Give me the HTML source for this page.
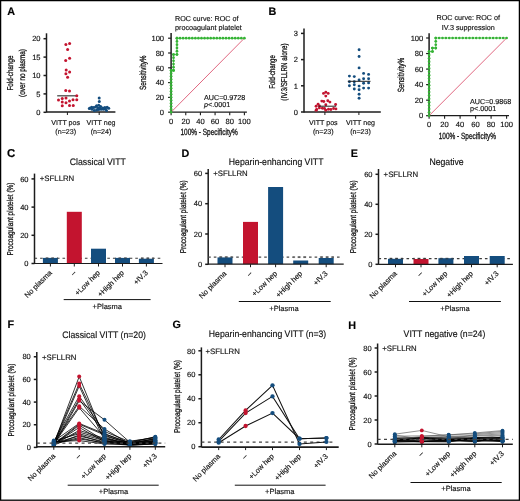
<!DOCTYPE html><html><head><meta charset="utf-8"><style>html,body{margin:0;padding:0;background:#fff;}svg{display:block;will-change:transform;}</style></head><body><svg width="520" height="501" viewBox="0 0 520 501" style="font-family:&quot;Liberation Sans&quot;,sans-serif">
<style>text{stroke:#111;stroke-width:0.15px;text-rendering:geometricPrecision;}</style>
<rect x="0" y="0" width="520" height="501" fill="#fff"/>
<rect x="0.6" y="0.6" width="518.8" height="499.6" fill="none" stroke="#000" stroke-width="1.3"/>
<text x="7.2" y="15.2" font-size="10.8" font-weight="bold" fill="#000">A</text>
<line x1="46.50" y1="33.30" x2="46.50" y2="112.50" stroke="#1c1c1c" stroke-width="1.5" />
<line x1="43.50" y1="112.30" x2="46.50" y2="112.30" stroke="#1c1c1c" stroke-width="1.5" />
<text x="40.50" y="115.00" font-size="7.5" text-anchor="end" fill="#111" >0</text>
<line x1="43.50" y1="93.90" x2="46.50" y2="93.90" stroke="#1c1c1c" stroke-width="1.5" />
<text x="40.50" y="96.60" font-size="7.5" text-anchor="end" fill="#111" >5</text>
<line x1="43.50" y1="75.50" x2="46.50" y2="75.50" stroke="#1c1c1c" stroke-width="1.5" />
<text x="40.50" y="78.20" font-size="7.5" text-anchor="end" fill="#111" >10</text>
<line x1="43.50" y1="57.10" x2="46.50" y2="57.10" stroke="#1c1c1c" stroke-width="1.5" />
<text x="40.50" y="59.80" font-size="7.5" text-anchor="end" fill="#111" >15</text>
<line x1="43.50" y1="38.70" x2="46.50" y2="38.70" stroke="#1c1c1c" stroke-width="1.5" />
<text x="40.50" y="41.40" font-size="7.5" text-anchor="end" fill="#111" >20</text>
<line x1="46.50" y1="112.00" x2="115.40" y2="112.00" stroke="#1c1c1c" stroke-width="1.5" />
<line x1="67.40" y1="112.00" x2="67.40" y2="115.00" stroke="#1c1c1c" stroke-width="1" />
<line x1="99.20" y1="112.00" x2="99.20" y2="115.00" stroke="#1c1c1c" stroke-width="1" />
<text x="65.70" y="125.30" font-size="7.1" text-anchor="middle" fill="#111" >VITT pos</text>
<text x="65.70" y="134.20" font-size="7.1" text-anchor="middle" fill="#111" >(n=23)</text>
<text x="101.00" y="125.30" font-size="7.1" text-anchor="middle" fill="#111" >VITT neg</text>
<text x="101.00" y="134.20" font-size="7.1" text-anchor="middle" fill="#111" >(n=24)</text>
<g transform="translate(13.20,73.00) rotate(-90) scale(0.74,1)"><text x="0" y="0" font-size="8.5" text-anchor="middle" fill="#111" style="stroke-width:0.3px">Fold-change</text></g>
<g transform="translate(24.60,73.00) rotate(-90) scale(0.75,1)"><text x="0" y="0" font-size="8.5" text-anchor="middle" fill="#111" style="stroke-width:0.3px">(over no plasma)</text></g>
<line x1="57.20" y1="95.80" x2="76.00" y2="95.80" stroke="#4a4a4a" stroke-width="1.3" />
<circle cx="65.90" cy="44.60" r="1.5" fill="#c3142f"/>
<circle cx="69.60" cy="43.60" r="1.5" fill="#c3142f"/>
<circle cx="67.60" cy="49.50" r="1.5" fill="#c3142f"/>
<circle cx="65.70" cy="60.50" r="1.5" fill="#c3142f"/>
<circle cx="69.60" cy="58.30" r="1.5" fill="#c3142f"/>
<circle cx="66.20" cy="70.00" r="1.5" fill="#c3142f"/>
<circle cx="69.60" cy="72.10" r="1.5" fill="#c3142f"/>
<circle cx="65.90" cy="73.80" r="1.5" fill="#c3142f"/>
<circle cx="67.60" cy="77.20" r="1.5" fill="#c3142f"/>
<circle cx="65.75" cy="90.50" r="1.5" fill="#c3142f"/>
<circle cx="69.50" cy="91.00" r="1.5" fill="#c3142f"/>
<circle cx="76.75" cy="95.75" r="1.5" fill="#c3142f"/>
<circle cx="58.50" cy="100.00" r="1.5" fill="#c3142f"/>
<circle cx="62.25" cy="98.50" r="1.5" fill="#c3142f"/>
<circle cx="66.00" cy="98.00" r="1.5" fill="#c3142f"/>
<circle cx="69.50" cy="101.00" r="1.5" fill="#c3142f"/>
<circle cx="73.00" cy="99.75" r="1.5" fill="#c3142f"/>
<circle cx="76.75" cy="99.75" r="1.5" fill="#c3142f"/>
<circle cx="62.25" cy="102.00" r="1.5" fill="#c3142f"/>
<circle cx="66.00" cy="102.75" r="1.5" fill="#c3142f"/>
<circle cx="62.25" cy="105.75" r="1.5" fill="#c3142f"/>
<circle cx="69.50" cy="105.50" r="1.5" fill="#c3142f"/>
<circle cx="73.25" cy="105.50" r="1.5" fill="#c3142f"/>
<circle cx="99.20" cy="97.90" r="1.5" fill="#144d7e"/>
<circle cx="99.30" cy="101.60" r="1.5" fill="#144d7e"/>
<circle cx="96.60" cy="105.70" r="1.5" fill="#144d7e"/>
<circle cx="98.70" cy="105.20" r="1.5" fill="#144d7e"/>
<circle cx="100.60" cy="106.50" r="1.5" fill="#144d7e"/>
<circle cx="90.10" cy="108.10" r="1.5" fill="#144d7e"/>
<circle cx="91.70" cy="107.30" r="1.5" fill="#144d7e"/>
<circle cx="93.60" cy="107.50" r="1.5" fill="#144d7e"/>
<circle cx="95.50" cy="107.00" r="1.5" fill="#144d7e"/>
<circle cx="102.80" cy="108.10" r="1.5" fill="#144d7e"/>
<circle cx="104.90" cy="107.50" r="1.5" fill="#144d7e"/>
<circle cx="107.10" cy="107.30" r="1.5" fill="#144d7e"/>
<circle cx="108.70" cy="108.30" r="1.5" fill="#144d7e"/>
<circle cx="94.40" cy="110.40" r="1.5" fill="#144d7e"/>
<circle cx="96.60" cy="110.00" r="1.5" fill="#144d7e"/>
<circle cx="98.70" cy="109.40" r="1.5" fill="#144d7e"/>
<circle cx="101.20" cy="109.20" r="1.5" fill="#144d7e"/>
<circle cx="106.50" cy="110.40" r="1.5" fill="#144d7e"/>
<circle cx="97.90" cy="108.10" r="1.5" fill="#144d7e"/>
<circle cx="100.10" cy="108.10" r="1.5" fill="#144d7e"/>
<circle cx="89.30" cy="108.60" r="1.5" fill="#144d7e"/>
<circle cx="103.50" cy="109.30" r="1.5" fill="#144d7e"/>
<circle cx="92.00" cy="109.20" r="1.5" fill="#144d7e"/>
<circle cx="105.50" cy="109.00" r="1.5" fill="#144d7e"/>
<line x1="171.10" y1="112.20" x2="244.40" y2="38.20" stroke="#d8405f" stroke-width="0.8" />
<line x1="171.10" y1="33.00" x2="171.10" y2="112.70" stroke="#1c1c1c" stroke-width="1.5" />
<line x1="168.10" y1="112.20" x2="171.10" y2="112.20" stroke="#1c1c1c" stroke-width="1.2" />
<text x="164.10" y="114.90" font-size="7.6" text-anchor="end" fill="#111" >0</text>
<line x1="168.10" y1="97.40" x2="171.10" y2="97.40" stroke="#1c1c1c" stroke-width="1.2" />
<text x="164.10" y="100.10" font-size="7.6" text-anchor="end" fill="#111" >20</text>
<line x1="168.10" y1="82.60" x2="171.10" y2="82.60" stroke="#1c1c1c" stroke-width="1.2" />
<text x="164.10" y="85.30" font-size="7.6" text-anchor="end" fill="#111" >40</text>
<line x1="168.10" y1="67.80" x2="171.10" y2="67.80" stroke="#1c1c1c" stroke-width="1.2" />
<text x="164.10" y="70.50" font-size="7.6" text-anchor="end" fill="#111" >60</text>
<line x1="168.10" y1="53.00" x2="171.10" y2="53.00" stroke="#1c1c1c" stroke-width="1.2" />
<text x="164.10" y="55.70" font-size="7.6" text-anchor="end" fill="#111" >80</text>
<line x1="168.10" y1="38.20" x2="171.10" y2="38.20" stroke="#1c1c1c" stroke-width="1.2" />
<text x="164.10" y="40.90" font-size="7.6" text-anchor="end" fill="#111" >100</text>
<line x1="171.10" y1="112.20" x2="246.90" y2="112.20" stroke="#1c1c1c" stroke-width="1.2" />
<line x1="171.10" y1="112.20" x2="171.10" y2="115.20" stroke="#1c1c1c" stroke-width="1.1" />
<text x="171.10" y="124.30" font-size="7.6" text-anchor="middle" fill="#111" >0</text>
<line x1="185.76" y1="112.20" x2="185.76" y2="115.20" stroke="#1c1c1c" stroke-width="1.1" />
<text x="185.76" y="124.30" font-size="7.6" text-anchor="middle" fill="#111" >20</text>
<line x1="200.42" y1="112.20" x2="200.42" y2="115.20" stroke="#1c1c1c" stroke-width="1.1" />
<text x="200.42" y="124.30" font-size="7.6" text-anchor="middle" fill="#111" >40</text>
<line x1="215.08" y1="112.20" x2="215.08" y2="115.20" stroke="#1c1c1c" stroke-width="1.1" />
<text x="215.08" y="124.30" font-size="7.6" text-anchor="middle" fill="#111" >60</text>
<line x1="229.74" y1="112.20" x2="229.74" y2="115.20" stroke="#1c1c1c" stroke-width="1.1" />
<text x="229.74" y="124.30" font-size="7.6" text-anchor="middle" fill="#111" >80</text>
<line x1="244.40" y1="112.20" x2="244.40" y2="115.20" stroke="#1c1c1c" stroke-width="1.1" />
<text x="244.40" y="124.30" font-size="7.6" text-anchor="middle" fill="#111" >100</text>
<path d="M171.10,112.20 L171.10,70.39 L173.52,70.39 L173.52,54.48 L176.96,54.48 L176.96,38.20 L244.40,38.20" fill="none" stroke="#35b335" stroke-width="0.6"/>
<circle cx="171.10" cy="112.20" r="1.35" fill="#35b335"/>
<circle cx="171.10" cy="109.21" r="1.35" fill="#35b335"/>
<circle cx="171.10" cy="106.23" r="1.35" fill="#35b335"/>
<circle cx="171.10" cy="103.24" r="1.35" fill="#35b335"/>
<circle cx="171.10" cy="100.25" r="1.35" fill="#35b335"/>
<circle cx="171.10" cy="97.27" r="1.35" fill="#35b335"/>
<circle cx="171.10" cy="94.28" r="1.35" fill="#35b335"/>
<circle cx="171.10" cy="91.30" r="1.35" fill="#35b335"/>
<circle cx="171.10" cy="88.31" r="1.35" fill="#35b335"/>
<circle cx="171.10" cy="85.32" r="1.35" fill="#35b335"/>
<circle cx="171.10" cy="82.34" r="1.35" fill="#35b335"/>
<circle cx="171.10" cy="79.35" r="1.35" fill="#35b335"/>
<circle cx="171.10" cy="76.36" r="1.35" fill="#35b335"/>
<circle cx="171.10" cy="73.38" r="1.35" fill="#35b335"/>
<circle cx="171.10" cy="70.39" r="1.35" fill="#35b335"/>
<circle cx="171.10" cy="70.39" r="1.35" fill="#35b335"/>
<circle cx="173.52" cy="70.39" r="1.35" fill="#35b335"/>
<circle cx="173.52" cy="70.39" r="1.35" fill="#35b335"/>
<circle cx="173.52" cy="67.21" r="1.35" fill="#35b335"/>
<circle cx="173.52" cy="64.03" r="1.35" fill="#35b335"/>
<circle cx="173.52" cy="60.84" r="1.35" fill="#35b335"/>
<circle cx="173.52" cy="57.66" r="1.35" fill="#35b335"/>
<circle cx="173.52" cy="54.48" r="1.35" fill="#35b335"/>
<circle cx="173.52" cy="54.48" r="1.35" fill="#35b335"/>
<circle cx="176.96" cy="54.48" r="1.35" fill="#35b335"/>
<circle cx="176.96" cy="54.48" r="1.35" fill="#35b335"/>
<circle cx="176.96" cy="51.22" r="1.35" fill="#35b335"/>
<circle cx="176.96" cy="47.97" r="1.35" fill="#35b335"/>
<circle cx="176.96" cy="44.71" r="1.35" fill="#35b335"/>
<circle cx="176.96" cy="41.46" r="1.35" fill="#35b335"/>
<circle cx="176.96" cy="38.20" r="1.35" fill="#35b335"/>
<circle cx="176.96" cy="38.20" r="1.35" fill="#35b335"/>
<circle cx="180.03" cy="38.20" r="1.35" fill="#35b335"/>
<circle cx="183.09" cy="38.20" r="1.35" fill="#35b335"/>
<circle cx="186.16" cy="38.20" r="1.35" fill="#35b335"/>
<circle cx="189.23" cy="38.20" r="1.35" fill="#35b335"/>
<circle cx="192.29" cy="38.20" r="1.35" fill="#35b335"/>
<circle cx="195.36" cy="38.20" r="1.35" fill="#35b335"/>
<circle cx="198.42" cy="38.20" r="1.35" fill="#35b335"/>
<circle cx="201.49" cy="38.20" r="1.35" fill="#35b335"/>
<circle cx="204.55" cy="38.20" r="1.35" fill="#35b335"/>
<circle cx="207.62" cy="38.20" r="1.35" fill="#35b335"/>
<circle cx="210.68" cy="38.20" r="1.35" fill="#35b335"/>
<circle cx="213.75" cy="38.20" r="1.35" fill="#35b335"/>
<circle cx="216.81" cy="38.20" r="1.35" fill="#35b335"/>
<circle cx="219.88" cy="38.20" r="1.35" fill="#35b335"/>
<circle cx="222.94" cy="38.20" r="1.35" fill="#35b335"/>
<circle cx="226.01" cy="38.20" r="1.35" fill="#35b335"/>
<circle cx="229.07" cy="38.20" r="1.35" fill="#35b335"/>
<circle cx="232.14" cy="38.20" r="1.35" fill="#35b335"/>
<circle cx="235.20" cy="38.20" r="1.35" fill="#35b335"/>
<circle cx="238.27" cy="38.20" r="1.35" fill="#35b335"/>
<circle cx="241.33" cy="38.20" r="1.35" fill="#35b335"/>
<circle cx="244.40" cy="38.20" r="1.35" fill="#35b335"/>
<text x="175.00" y="21.20" font-size="7.2" text-anchor="start" fill="#111" >ROC curve: ROC of</text>
<text x="175.00" y="30.20" font-size="7.2" text-anchor="start" fill="#111" >procoagulant platelet</text>
<g transform="translate(209.10,135.00) rotate(0) scale(0.72,1)"><text x="0" y="0" font-size="9" text-anchor="middle" fill="#111" style="stroke-width:0.3px">100% - Specificity%</text></g>
<g transform="translate(146.00,72.70) rotate(-90) scale(0.71,1)"><text x="0" y="0" font-size="9" text-anchor="middle" fill="#111" style="stroke-width:0.3px">Sensitivity%</text></g>
<text x="204.00" y="99.60" font-size="7.2" text-anchor="start" fill="#111" >AUC=0.9728</text>
<text x="204" y="106.9" font-size="7.2" fill="#111"><tspan font-style="italic">p</tspan>&lt;.0001</text>
<line x1="429.10" y1="115.70" x2="506.60" y2="38.00" stroke="#d8405f" stroke-width="0.8" />
<line x1="429.10" y1="33.20" x2="429.10" y2="116.20" stroke="#1c1c1c" stroke-width="1.5" />
<line x1="426.10" y1="115.70" x2="429.10" y2="115.70" stroke="#1c1c1c" stroke-width="1.2" />
<text x="423.30" y="118.40" font-size="7.6" text-anchor="end" fill="#111" >0</text>
<line x1="426.10" y1="100.16" x2="429.10" y2="100.16" stroke="#1c1c1c" stroke-width="1.2" />
<text x="423.30" y="102.86" font-size="7.6" text-anchor="end" fill="#111" >20</text>
<line x1="426.10" y1="84.62" x2="429.10" y2="84.62" stroke="#1c1c1c" stroke-width="1.2" />
<text x="423.30" y="87.32" font-size="7.6" text-anchor="end" fill="#111" >40</text>
<line x1="426.10" y1="69.08" x2="429.10" y2="69.08" stroke="#1c1c1c" stroke-width="1.2" />
<text x="423.30" y="71.78" font-size="7.6" text-anchor="end" fill="#111" >60</text>
<line x1="426.10" y1="53.54" x2="429.10" y2="53.54" stroke="#1c1c1c" stroke-width="1.2" />
<text x="423.30" y="56.24" font-size="7.6" text-anchor="end" fill="#111" >80</text>
<line x1="426.10" y1="38.00" x2="429.10" y2="38.00" stroke="#1c1c1c" stroke-width="1.2" />
<text x="423.30" y="40.70" font-size="7.6" text-anchor="end" fill="#111" >100</text>
<line x1="429.10" y1="115.70" x2="509.00" y2="115.70" stroke="#1c1c1c" stroke-width="1.2" />
<line x1="429.10" y1="115.70" x2="429.10" y2="118.70" stroke="#1c1c1c" stroke-width="1.1" />
<text x="429.10" y="127.30" font-size="7.6" text-anchor="middle" fill="#111" >0</text>
<line x1="444.60" y1="115.70" x2="444.60" y2="118.70" stroke="#1c1c1c" stroke-width="1.1" />
<text x="444.60" y="127.30" font-size="7.6" text-anchor="middle" fill="#111" >20</text>
<line x1="460.10" y1="115.70" x2="460.10" y2="118.70" stroke="#1c1c1c" stroke-width="1.1" />
<text x="460.10" y="127.30" font-size="7.6" text-anchor="middle" fill="#111" >40</text>
<line x1="475.60" y1="115.70" x2="475.60" y2="118.70" stroke="#1c1c1c" stroke-width="1.1" />
<text x="475.60" y="127.30" font-size="7.6" text-anchor="middle" fill="#111" >60</text>
<line x1="491.10" y1="115.70" x2="491.10" y2="118.70" stroke="#1c1c1c" stroke-width="1.1" />
<text x="491.10" y="127.30" font-size="7.6" text-anchor="middle" fill="#111" >80</text>
<line x1="506.60" y1="115.70" x2="506.60" y2="118.70" stroke="#1c1c1c" stroke-width="1.1" />
<text x="506.60" y="127.30" font-size="7.6" text-anchor="middle" fill="#111" >100</text>
<path d="M429.10,115.70 L429.10,51.52 L432.43,51.52 L432.43,48.10 L435.77,48.10 L435.77,38.00 L506.60,38.00" fill="none" stroke="#35b335" stroke-width="0.6"/>
<circle cx="429.10" cy="115.70" r="1.35" fill="#35b335"/>
<circle cx="429.10" cy="112.32" r="1.35" fill="#35b335"/>
<circle cx="429.10" cy="108.94" r="1.35" fill="#35b335"/>
<circle cx="429.10" cy="105.57" r="1.35" fill="#35b335"/>
<circle cx="429.10" cy="102.19" r="1.35" fill="#35b335"/>
<circle cx="429.10" cy="98.81" r="1.35" fill="#35b335"/>
<circle cx="429.10" cy="95.43" r="1.35" fill="#35b335"/>
<circle cx="429.10" cy="92.05" r="1.35" fill="#35b335"/>
<circle cx="429.10" cy="88.68" r="1.35" fill="#35b335"/>
<circle cx="429.10" cy="85.30" r="1.35" fill="#35b335"/>
<circle cx="429.10" cy="81.92" r="1.35" fill="#35b335"/>
<circle cx="429.10" cy="78.54" r="1.35" fill="#35b335"/>
<circle cx="429.10" cy="75.17" r="1.35" fill="#35b335"/>
<circle cx="429.10" cy="71.79" r="1.35" fill="#35b335"/>
<circle cx="429.10" cy="68.41" r="1.35" fill="#35b335"/>
<circle cx="429.10" cy="65.03" r="1.35" fill="#35b335"/>
<circle cx="429.10" cy="61.65" r="1.35" fill="#35b335"/>
<circle cx="429.10" cy="58.28" r="1.35" fill="#35b335"/>
<circle cx="429.10" cy="54.90" r="1.35" fill="#35b335"/>
<circle cx="429.10" cy="51.52" r="1.35" fill="#35b335"/>
<circle cx="429.10" cy="51.52" r="1.35" fill="#35b335"/>
<circle cx="432.43" cy="51.52" r="1.35" fill="#35b335"/>
<circle cx="432.43" cy="51.52" r="1.35" fill="#35b335"/>
<circle cx="432.43" cy="48.10" r="1.35" fill="#35b335"/>
<circle cx="432.43" cy="48.10" r="1.35" fill="#35b335"/>
<circle cx="435.77" cy="48.10" r="1.35" fill="#35b335"/>
<circle cx="435.77" cy="48.10" r="1.35" fill="#35b335"/>
<circle cx="435.77" cy="44.73" r="1.35" fill="#35b335"/>
<circle cx="435.77" cy="41.37" r="1.35" fill="#35b335"/>
<circle cx="435.77" cy="38.00" r="1.35" fill="#35b335"/>
<circle cx="435.77" cy="38.00" r="1.35" fill="#35b335"/>
<circle cx="439.14" cy="38.00" r="1.35" fill="#35b335"/>
<circle cx="442.51" cy="38.00" r="1.35" fill="#35b335"/>
<circle cx="445.88" cy="38.00" r="1.35" fill="#35b335"/>
<circle cx="449.26" cy="38.00" r="1.35" fill="#35b335"/>
<circle cx="452.63" cy="38.00" r="1.35" fill="#35b335"/>
<circle cx="456.00" cy="38.00" r="1.35" fill="#35b335"/>
<circle cx="459.38" cy="38.00" r="1.35" fill="#35b335"/>
<circle cx="462.75" cy="38.00" r="1.35" fill="#35b335"/>
<circle cx="466.12" cy="38.00" r="1.35" fill="#35b335"/>
<circle cx="469.50" cy="38.00" r="1.35" fill="#35b335"/>
<circle cx="472.87" cy="38.00" r="1.35" fill="#35b335"/>
<circle cx="476.24" cy="38.00" r="1.35" fill="#35b335"/>
<circle cx="479.62" cy="38.00" r="1.35" fill="#35b335"/>
<circle cx="482.99" cy="38.00" r="1.35" fill="#35b335"/>
<circle cx="486.36" cy="38.00" r="1.35" fill="#35b335"/>
<circle cx="489.73" cy="38.00" r="1.35" fill="#35b335"/>
<circle cx="493.11" cy="38.00" r="1.35" fill="#35b335"/>
<circle cx="496.48" cy="38.00" r="1.35" fill="#35b335"/>
<circle cx="499.85" cy="38.00" r="1.35" fill="#35b335"/>
<circle cx="503.23" cy="38.00" r="1.35" fill="#35b335"/>
<circle cx="506.60" cy="38.00" r="1.35" fill="#35b335"/>
<text x="468.30" y="20.30" font-size="7.2" text-anchor="middle" fill="#111" >ROC curve: ROC of</text>
<text x="468.30" y="29.50" font-size="7.2" text-anchor="middle" fill="#111" >IV.3 suppression</text>
<g transform="translate(467.30,139.00) rotate(0) scale(0.72,1)"><text x="0" y="0" font-size="9" text-anchor="middle" fill="#111" style="stroke-width:0.3px">100% - Specificity%</text></g>
<g transform="translate(403.50,75.00) rotate(-90) scale(0.71,1)"><text x="0" y="0" font-size="9" text-anchor="middle" fill="#111" style="stroke-width:0.3px">Sensitivity%</text></g>
<text x="470.00" y="103.80" font-size="7.2" text-anchor="start" fill="#111" >AUC=0.9868</text>
<text x="470.00" y="110.70" font-size="7.2" text-anchor="start" fill="#111" >p&lt;.0001</text>
<text x="268.5" y="15.1" font-size="10.8" font-weight="bold" fill="#000">B</text>
<line x1="304.00" y1="28.40" x2="304.00" y2="112.50" stroke="#1c1c1c" stroke-width="1.5" />
<line x1="301.00" y1="112.00" x2="304.00" y2="112.00" stroke="#1c1c1c" stroke-width="1.5" />
<text x="298.00" y="114.70" font-size="7.5" text-anchor="end" fill="#111" >0</text>
<line x1="301.00" y1="85.80" x2="304.00" y2="85.80" stroke="#1c1c1c" stroke-width="1.5" />
<text x="298.00" y="88.50" font-size="7.5" text-anchor="end" fill="#111" >1</text>
<line x1="301.00" y1="59.60" x2="304.00" y2="59.60" stroke="#1c1c1c" stroke-width="1.5" />
<text x="298.00" y="62.30" font-size="7.5" text-anchor="end" fill="#111" >2</text>
<line x1="301.00" y1="33.40" x2="304.00" y2="33.40" stroke="#1c1c1c" stroke-width="1.5" />
<text x="298.00" y="36.10" font-size="7.5" text-anchor="end" fill="#111" >3</text>
<line x1="304.00" y1="112.00" x2="380.80" y2="112.00" stroke="#1c1c1c" stroke-width="1.5" />
<line x1="324.90" y1="112.00" x2="324.90" y2="115.00" stroke="#1c1c1c" stroke-width="1" />
<line x1="358.90" y1="112.00" x2="358.90" y2="115.00" stroke="#1c1c1c" stroke-width="1" />
<text x="323.30" y="125.40" font-size="7.1" text-anchor="middle" fill="#111" >VITT pos</text>
<text x="323.30" y="134.20" font-size="7.1" text-anchor="middle" fill="#111" >(n=23)</text>
<text x="360.50" y="125.40" font-size="7.1" text-anchor="middle" fill="#111" >VITT neg</text>
<text x="360.50" y="134.20" font-size="7.1" text-anchor="middle" fill="#111" >(n=23)</text>
<g transform="translate(275.00,72.00) rotate(-90) scale(0.71,1)"><text x="0" y="0" font-size="8.5" text-anchor="middle" fill="#111" style="stroke-width:0.3px">Fold-change</text></g>
<g transform="translate(286.50,72.00) rotate(-90) scale(0.733,1)"><text x="0" y="0" font-size="8.5" text-anchor="middle" fill="#111" style="stroke-width:0.3px">(IV.3/SFLLRN alone)</text></g>
<circle cx="359.10" cy="49.70" r="1.45" fill="#144d7e"/>
<circle cx="359.10" cy="56.50" r="1.45" fill="#144d7e"/>
<circle cx="359.10" cy="67.90" r="1.45" fill="#144d7e"/>
<circle cx="363.60" cy="73.40" r="1.45" fill="#144d7e"/>
<circle cx="368.60" cy="74.40" r="1.45" fill="#144d7e"/>
<circle cx="349.40" cy="76.10" r="1.45" fill="#144d7e"/>
<circle cx="354.30" cy="76.60" r="1.45" fill="#144d7e"/>
<circle cx="363.60" cy="78.70" r="1.45" fill="#144d7e"/>
<circle cx="368.60" cy="78.70" r="1.45" fill="#144d7e"/>
<circle cx="359.10" cy="80.00" r="1.45" fill="#144d7e"/>
<circle cx="349.40" cy="81.80" r="1.45" fill="#144d7e"/>
<circle cx="354.30" cy="81.80" r="1.45" fill="#144d7e"/>
<circle cx="363.60" cy="83.20" r="1.45" fill="#144d7e"/>
<circle cx="368.60" cy="82.90" r="1.45" fill="#144d7e"/>
<circle cx="349.40" cy="85.80" r="1.45" fill="#144d7e"/>
<circle cx="354.30" cy="84.80" r="1.45" fill="#144d7e"/>
<circle cx="359.10" cy="86.10" r="1.45" fill="#144d7e"/>
<circle cx="359.10" cy="89.70" r="1.45" fill="#144d7e"/>
<circle cx="354.30" cy="89.00" r="1.45" fill="#144d7e"/>
<circle cx="363.60" cy="88.10" r="1.45" fill="#144d7e"/>
<circle cx="368.60" cy="88.10" r="1.45" fill="#144d7e"/>
<circle cx="359.10" cy="94.30" r="1.45" fill="#144d7e"/>
<circle cx="359.10" cy="98.20" r="1.45" fill="#144d7e"/>
<line x1="347.80" y1="81.30" x2="370.50" y2="81.30" stroke="#222" stroke-width="1" />
<circle cx="323.50" cy="93.40" r="1.45" fill="#c3142f"/>
<circle cx="325.80" cy="92.20" r="1.45" fill="#c3142f"/>
<circle cx="328.20" cy="93.40" r="1.45" fill="#c3142f"/>
<circle cx="325.80" cy="96.10" r="1.45" fill="#c3142f"/>
<circle cx="321.80" cy="101.10" r="1.45" fill="#c3142f"/>
<circle cx="323.80" cy="101.50" r="1.45" fill="#c3142f"/>
<circle cx="327.80" cy="100.70" r="1.45" fill="#c3142f"/>
<circle cx="329.90" cy="102.10" r="1.45" fill="#c3142f"/>
<circle cx="318.10" cy="104.20" r="1.45" fill="#c3142f"/>
<circle cx="335.60" cy="104.50" r="1.45" fill="#c3142f"/>
<circle cx="316.10" cy="106.20" r="1.45" fill="#c3142f"/>
<circle cx="319.40" cy="106.00" r="1.45" fill="#c3142f"/>
<circle cx="325.80" cy="104.80" r="1.45" fill="#c3142f"/>
<circle cx="316.70" cy="109.50" r="1.45" fill="#c3142f"/>
<circle cx="319.40" cy="107.90" r="1.45" fill="#c3142f"/>
<circle cx="322.40" cy="108.20" r="1.45" fill="#c3142f"/>
<circle cx="324.50" cy="108.50" r="1.45" fill="#c3142f"/>
<circle cx="325.80" cy="110.20" r="1.45" fill="#c3142f"/>
<circle cx="328.50" cy="109.20" r="1.45" fill="#c3142f"/>
<circle cx="330.90" cy="109.50" r="1.45" fill="#c3142f"/>
<circle cx="333.60" cy="108.50" r="1.45" fill="#c3142f"/>
<circle cx="335.90" cy="108.90" r="1.45" fill="#c3142f"/>
<circle cx="316.10" cy="110.20" r="1.45" fill="#c3142f"/>
<line x1="318.70" y1="106.20" x2="336.20" y2="106.20" stroke="#222" stroke-width="1" />
<text x="7.0" y="156.6" font-size="11.4" font-weight="bold" fill="#000">C</text>
<text transform="translate(97.80,164.50) scale(1,1.08)" font-size="8.7" text-anchor="middle" fill="#111" >Classical VITT</text>
<line x1="34.50" y1="173.60" x2="34.50" y2="264.00" stroke="#1c1c1c" stroke-width="1.5" />
<line x1="31.50" y1="263.50" x2="34.50" y2="263.50" stroke="#1c1c1c" stroke-width="1.5" />
<text x="28.50" y="266.20" font-size="7.5" text-anchor="end" fill="#111" >0</text>
<line x1="31.50" y1="235.30" x2="34.50" y2="235.30" stroke="#1c1c1c" stroke-width="1.5" />
<text x="28.50" y="238.00" font-size="7.5" text-anchor="end" fill="#111" >20</text>
<line x1="31.50" y1="207.10" x2="34.50" y2="207.10" stroke="#1c1c1c" stroke-width="1.5" />
<text x="28.50" y="209.80" font-size="7.5" text-anchor="end" fill="#111" >40</text>
<line x1="31.50" y1="178.90" x2="34.50" y2="178.90" stroke="#1c1c1c" stroke-width="1.5" />
<text x="28.50" y="181.60" font-size="7.5" text-anchor="end" fill="#111" >60</text>
<text x="39.80" y="181.00" font-size="7.8" text-anchor="start" fill="#111" >+SFLLRN</text>
<g transform="translate(12.80,219.00) rotate(-90) scale(0.765,1)"><text x="0" y="0" font-size="8.5" text-anchor="middle" fill="#111" style="stroke-width:0.3px">Procoagulant platelet (%)</text></g>
<line x1="34.50" y1="258.20" x2="162.50" y2="258.20" stroke="#3a3a3a" stroke-width="1.1" stroke-dasharray="2.6,3.0"/>
<rect x="42.90" y="257.90" width="15" height="5.60" fill="#144d7e"/>
<rect x="66.80" y="211.80" width="15" height="51.70" fill="#c3142f"/>
<rect x="91.00" y="248.70" width="15" height="14.80" fill="#144d7e"/>
<rect x="115.00" y="257.90" width="15" height="5.60" fill="#144d7e"/>
<rect x="138.90" y="258.70" width="15" height="4.80" fill="#144d7e"/>
<svg x="42.90" y="256.20" width="15" height="4" overflow="hidden"><line x1="-8.40" y1="2" x2="600" y2="2" stroke="#3a3a3a" stroke-width="1.1" stroke-dasharray="2.6,3.0"/></svg>
<svg x="115.00" y="256.20" width="15" height="4" overflow="hidden"><line x1="-80.50" y1="2" x2="600" y2="2" stroke="#3a3a3a" stroke-width="1.1" stroke-dasharray="2.6,3.0"/></svg>
<svg x="138.90" y="256.20" width="15" height="4" overflow="hidden"><line x1="-104.40" y1="2" x2="600" y2="2" stroke="#3a3a3a" stroke-width="1.1" stroke-dasharray="2.6,3.0"/></svg>
<line x1="34.50" y1="263.50" x2="162.50" y2="263.50" stroke="#1c1c1c" stroke-width="1.2" />
<line x1="50.40" y1="263.50" x2="50.40" y2="266.50" stroke="#1c1c1c" stroke-width="1" />
<text transform="translate(52.40,273.30) rotate(-45)" font-size="7.4" text-anchor="end" fill="#111">No plasma</text>
<line x1="74.30" y1="263.50" x2="74.30" y2="266.50" stroke="#1c1c1c" stroke-width="1" />
<text transform="translate(76.30,273.30) rotate(-45)" font-size="7.4" text-anchor="end" fill="#111">–</text>
<line x1="98.50" y1="263.50" x2="98.50" y2="266.50" stroke="#1c1c1c" stroke-width="1" />
<text transform="translate(100.50,273.30) rotate(-45)" font-size="7.4" text-anchor="end" fill="#111">+Low hep</text>
<line x1="122.50" y1="263.50" x2="122.50" y2="266.50" stroke="#1c1c1c" stroke-width="1" />
<text transform="translate(124.50,273.30) rotate(-45)" font-size="7.4" text-anchor="end" fill="#111">+High hep</text>
<line x1="146.40" y1="263.50" x2="146.40" y2="266.50" stroke="#1c1c1c" stroke-width="1" />
<text transform="translate(148.40,273.30) rotate(-45)" font-size="7.4" text-anchor="end" fill="#111">+IV.3</text>
<line x1="63.70" y1="299.60" x2="150.60" y2="299.60" stroke="#111" stroke-width="1" />
<text x="107.30" y="308.50" font-size="7.5" text-anchor="middle" fill="#111" >+Plasma</text>
<text x="181.5" y="157" font-size="10.8" font-weight="bold" fill="#000">D</text>
<text transform="translate(228.80,165.10) scale(1,1.08)" font-size="8.7" text-anchor="start" fill="#111" >Heparin-enhancing VITT</text>
<line x1="208.20" y1="169.00" x2="208.20" y2="264.80" stroke="#1c1c1c" stroke-width="1.5" />
<line x1="205.20" y1="264.30" x2="208.20" y2="264.30" stroke="#1c1c1c" stroke-width="1.5" />
<text x="202.20" y="267.00" font-size="7.5" text-anchor="end" fill="#111" >0</text>
<line x1="205.20" y1="234.00" x2="208.20" y2="234.00" stroke="#1c1c1c" stroke-width="1.5" />
<text x="202.20" y="236.70" font-size="7.5" text-anchor="end" fill="#111" >20</text>
<line x1="205.20" y1="203.70" x2="208.20" y2="203.70" stroke="#1c1c1c" stroke-width="1.5" />
<text x="202.20" y="206.40" font-size="7.5" text-anchor="end" fill="#111" >40</text>
<line x1="205.20" y1="173.40" x2="208.20" y2="173.40" stroke="#1c1c1c" stroke-width="1.5" />
<text x="202.20" y="176.10" font-size="7.5" text-anchor="end" fill="#111" >60</text>
<text x="213.20" y="176.30" font-size="7.8" text-anchor="start" fill="#111" >+SFLLRN</text>
<g transform="translate(185.80,216.80) rotate(-90) scale(0.765,1)"><text x="0" y="0" font-size="8.5" text-anchor="middle" fill="#111" style="stroke-width:0.3px">Procoagulant platelet (%)</text></g>
<line x1="208.20" y1="257.10" x2="341.50" y2="257.10" stroke="#4a4a4a" stroke-width="1.1" stroke-dasharray="2.6,3.0"/>
<rect x="217.50" y="257.40" width="15" height="6.80" fill="#144d7e"/>
<rect x="243.00" y="221.90" width="15" height="42.30" fill="#c3142f"/>
<rect x="268.10" y="187.00" width="15" height="77.20" fill="#144d7e"/>
<rect x="293.20" y="260.50" width="15" height="3.70" fill="#144d7e"/>
<rect x="318.70" y="258.00" width="15" height="6.20" fill="#144d7e"/>
<svg x="217.50" y="255.10" width="15" height="4" overflow="hidden"><line x1="-9.30" y1="2" x2="600" y2="2" stroke="#4a4a4a" stroke-width="1.1" stroke-dasharray="2.6,3.0"/></svg>
<svg x="293.20" y="255.10" width="15" height="4" overflow="hidden"><line x1="-85.00" y1="2" x2="600" y2="2" stroke="#4a4a4a" stroke-width="1.1" stroke-dasharray="2.6,3.0"/></svg>
<svg x="318.70" y="255.10" width="15" height="4" overflow="hidden"><line x1="-110.50" y1="2" x2="600" y2="2" stroke="#4a4a4a" stroke-width="1.1" stroke-dasharray="2.6,3.0"/></svg>
<line x1="208.20" y1="264.20" x2="343.70" y2="264.20" stroke="#1c1c1c" stroke-width="1.2" />
<line x1="225.00" y1="264.20" x2="225.00" y2="267.20" stroke="#1c1c1c" stroke-width="1" />
<text transform="translate(227.00,274.00) rotate(-45)" font-size="7.4" text-anchor="end" fill="#111">No plasma</text>
<line x1="250.50" y1="264.20" x2="250.50" y2="267.20" stroke="#1c1c1c" stroke-width="1" />
<text transform="translate(252.50,274.00) rotate(-45)" font-size="7.4" text-anchor="end" fill="#111">–</text>
<line x1="275.60" y1="264.20" x2="275.60" y2="267.20" stroke="#1c1c1c" stroke-width="1" />
<text transform="translate(277.60,274.00) rotate(-45)" font-size="7.4" text-anchor="end" fill="#111">+Low hep</text>
<line x1="300.70" y1="264.20" x2="300.70" y2="267.20" stroke="#1c1c1c" stroke-width="1" />
<text transform="translate(302.70,274.00) rotate(-45)" font-size="7.4" text-anchor="end" fill="#111">+High hep</text>
<line x1="326.20" y1="264.20" x2="326.20" y2="267.20" stroke="#1c1c1c" stroke-width="1" />
<text transform="translate(328.20,274.00) rotate(-45)" font-size="7.4" text-anchor="end" fill="#111">+IV.3</text>
<line x1="238.80" y1="301.50" x2="330.70" y2="301.50" stroke="#111" stroke-width="1" />
<text x="284.00" y="310.80" font-size="7.5" text-anchor="middle" fill="#111" >+Plasma</text>
<text x="350.8" y="157" font-size="10.8" font-weight="bold" fill="#000">E</text>
<text transform="translate(429.40,165.00) scale(1,1.08)" font-size="8.7" text-anchor="start" fill="#111" >Negative</text>
<line x1="378.50" y1="169.00" x2="378.50" y2="264.80" stroke="#1c1c1c" stroke-width="1.5" />
<line x1="375.50" y1="264.30" x2="378.50" y2="264.30" stroke="#1c1c1c" stroke-width="1.5" />
<text x="372.50" y="267.00" font-size="7.5" text-anchor="end" fill="#111" >0</text>
<line x1="375.50" y1="234.30" x2="378.50" y2="234.30" stroke="#1c1c1c" stroke-width="1.5" />
<text x="372.50" y="237.00" font-size="7.5" text-anchor="end" fill="#111" >20</text>
<line x1="375.50" y1="204.30" x2="378.50" y2="204.30" stroke="#1c1c1c" stroke-width="1.5" />
<text x="372.50" y="207.00" font-size="7.5" text-anchor="end" fill="#111" >40</text>
<line x1="375.50" y1="174.30" x2="378.50" y2="174.30" stroke="#1c1c1c" stroke-width="1.5" />
<text x="372.50" y="177.00" font-size="7.5" text-anchor="end" fill="#111" >60</text>
<text x="383.60" y="177.00" font-size="7.8" text-anchor="start" fill="#111" >+SFLLRN</text>
<g transform="translate(356.00,216.80) rotate(-90) scale(0.765,1)"><text x="0" y="0" font-size="8.5" text-anchor="middle" fill="#111" style="stroke-width:0.3px">Procoagulant platelet (%)</text></g>
<line x1="378.50" y1="258.60" x2="512.90" y2="258.60" stroke="#3a3a3a" stroke-width="1.1" stroke-dasharray="2.6,3.0"/>
<rect x="388.00" y="258.80" width="15" height="5.50" fill="#144d7e"/>
<rect x="413.50" y="259.00" width="15" height="5.30" fill="#c3142f"/>
<rect x="438.40" y="258.20" width="15" height="6.10" fill="#144d7e"/>
<rect x="464.00" y="256.00" width="15" height="8.30" fill="#144d7e"/>
<rect x="489.70" y="256.00" width="15" height="8.30" fill="#144d7e"/>
<svg x="388.00" y="256.60" width="15" height="4" overflow="hidden"><line x1="-9.60" y1="2" x2="600" y2="2" stroke="#3a3a3a" stroke-width="1.1" stroke-dasharray="2.6,3.0"/></svg>
<svg x="413.50" y="256.60" width="15" height="4" overflow="hidden"><line x1="-35.10" y1="2" x2="600" y2="2" stroke="#3a3a3a" stroke-width="1.1" stroke-dasharray="2.6,3.0"/></svg>
<svg x="438.40" y="256.60" width="15" height="4" overflow="hidden"><line x1="-60.00" y1="2" x2="600" y2="2" stroke="#3a3a3a" stroke-width="1.1" stroke-dasharray="2.6,3.0"/></svg>
<line x1="378.50" y1="264.30" x2="512.90" y2="264.30" stroke="#1c1c1c" stroke-width="1.2" />
<line x1="395.50" y1="264.30" x2="395.50" y2="267.30" stroke="#1c1c1c" stroke-width="1" />
<text transform="translate(397.50,274.10) rotate(-45)" font-size="7.4" text-anchor="end" fill="#111">No plasma</text>
<line x1="421.00" y1="264.30" x2="421.00" y2="267.30" stroke="#1c1c1c" stroke-width="1" />
<text transform="translate(423.00,274.10) rotate(-45)" font-size="7.4" text-anchor="end" fill="#111">–</text>
<line x1="445.90" y1="264.30" x2="445.90" y2="267.30" stroke="#1c1c1c" stroke-width="1" />
<text transform="translate(447.90,274.10) rotate(-45)" font-size="7.4" text-anchor="end" fill="#111">+Low hep</text>
<line x1="471.50" y1="264.30" x2="471.50" y2="267.30" stroke="#1c1c1c" stroke-width="1" />
<text transform="translate(473.50,274.10) rotate(-45)" font-size="7.4" text-anchor="end" fill="#111">+High hep</text>
<line x1="497.20" y1="264.30" x2="497.20" y2="267.30" stroke="#1c1c1c" stroke-width="1" />
<text transform="translate(499.20,274.10) rotate(-45)" font-size="7.4" text-anchor="end" fill="#111">+IV.3</text>
<line x1="409.00" y1="301.50" x2="500.90" y2="301.50" stroke="#111" stroke-width="1" />
<text x="455.00" y="310.80" font-size="7.5" text-anchor="middle" fill="#111" >+Plasma</text>
<text x="7.5" y="328" font-size="10.8" font-weight="bold" fill="#000">F</text>
<text transform="translate(62.30,337.50) scale(1,1.08)" font-size="8.7" text-anchor="start" fill="#111" >Classical VITT (n=20)</text>
<line x1="36.80" y1="352.00" x2="36.80" y2="447.90" stroke="#1c1c1c" stroke-width="1.5" />
<line x1="33.80" y1="447.40" x2="36.80" y2="447.40" stroke="#1c1c1c" stroke-width="1.5" />
<text x="30.80" y="450.10" font-size="7.5" text-anchor="end" fill="#111" >0</text>
<line x1="33.80" y1="424.74" x2="36.80" y2="424.74" stroke="#1c1c1c" stroke-width="1.5" />
<text x="30.80" y="427.44" font-size="7.5" text-anchor="end" fill="#111" >20</text>
<line x1="33.80" y1="402.08" x2="36.80" y2="402.08" stroke="#1c1c1c" stroke-width="1.5" />
<text x="30.80" y="404.78" font-size="7.5" text-anchor="end" fill="#111" >40</text>
<line x1="33.80" y1="379.42" x2="36.80" y2="379.42" stroke="#1c1c1c" stroke-width="1.5" />
<text x="30.80" y="382.12" font-size="7.5" text-anchor="end" fill="#111" >60</text>
<line x1="33.80" y1="356.76" x2="36.80" y2="356.76" stroke="#1c1c1c" stroke-width="1.5" />
<text x="30.80" y="359.46" font-size="7.5" text-anchor="end" fill="#111" >80</text>
<text x="42.00" y="359.60" font-size="7.8" text-anchor="start" fill="#111" >+SFLLRN</text>
<g transform="translate(14.40,400.00) rotate(-90) scale(0.765,1)"><text x="0" y="0" font-size="8.5" text-anchor="middle" fill="#111" style="stroke-width:0.3px">Procoagulant platelet (%)</text></g>
<path d="M53.80,444.00 L79.20,376.59 L104.50,438.34 L129.90,444.00 L155.30,438.34" fill="none" stroke="#000" stroke-width="0.8"/>
<path d="M53.80,442.87 L79.20,383.61 L104.50,436.07 L129.90,442.87 L155.30,441.73" fill="none" stroke="#000" stroke-width="0.8"/>
<path d="M53.80,444.57 L79.20,386.10 L104.50,440.60 L129.90,444.57 L155.30,442.87" fill="none" stroke="#000" stroke-width="0.8"/>
<path d="M53.80,441.73 L79.20,396.19 L104.50,431.54 L129.90,441.73 L155.30,437.20" fill="none" stroke="#000" stroke-width="0.8"/>
<path d="M53.80,443.43 L79.20,399.13 L104.50,433.80 L129.90,443.43 L155.30,440.60" fill="none" stroke="#000" stroke-width="0.8"/>
<path d="M53.80,445.13 L79.20,400.83 L104.50,419.87 L129.90,442.30 L155.30,439.47" fill="none" stroke="#000" stroke-width="0.8"/>
<path d="M53.80,442.30 L79.20,406.16 L104.50,429.05 L129.90,444.00 L155.30,443.43" fill="none" stroke="#000" stroke-width="0.8"/>
<path d="M53.80,444.00 L79.20,407.75 L104.50,437.20 L129.90,444.57 L155.30,441.73" fill="none" stroke="#000" stroke-width="0.8"/>
<path d="M53.80,441.17 L79.20,423.38 L104.50,433.80 L129.90,442.87 L155.30,440.60" fill="none" stroke="#000" stroke-width="0.8"/>
<path d="M53.80,444.57 L79.20,425.19 L104.50,440.60 L129.90,444.00 L155.30,442.87" fill="none" stroke="#000" stroke-width="0.8"/>
<path d="M53.80,444.00 L79.20,427.46 L104.50,441.73 L129.90,445.13 L155.30,444.00" fill="none" stroke="#000" stroke-width="0.8"/>
<path d="M53.80,442.87 L79.20,432.10 L104.50,439.47 L129.90,443.43 L155.30,438.90" fill="none" stroke="#000" stroke-width="0.8"/>
<path d="M53.80,445.13 L79.20,434.94 L104.50,442.87 L129.90,444.57 L155.30,442.30" fill="none" stroke="#000" stroke-width="0.8"/>
<path d="M53.80,443.43 L79.20,437.66 L104.50,443.43 L129.90,445.13 L155.30,444.00" fill="none" stroke="#000" stroke-width="0.8"/>
<path d="M53.80,441.73 L79.20,440.60 L104.50,444.00 L129.90,444.00 L155.30,441.73" fill="none" stroke="#000" stroke-width="0.8"/>
<path d="M53.80,442.87 L79.20,436.07 L104.50,441.73 L129.90,442.87 L155.30,436.64" fill="none" stroke="#000" stroke-width="0.8"/>
<path d="M53.80,444.00 L79.20,424.17 L104.50,434.94 L129.90,444.57 L155.30,440.60" fill="none" stroke="#000" stroke-width="0.8"/>
<path d="M53.80,444.57 L79.20,430.40 L104.50,438.34 L129.90,444.00 L155.30,442.87" fill="none" stroke="#000" stroke-width="0.8"/>
<path d="M53.80,440.60 L79.20,433.80 L104.50,440.60 L129.90,445.13 L155.30,443.43" fill="none" stroke="#000" stroke-width="0.8"/>
<path d="M53.80,443.43 L79.20,438.90 L104.50,442.87 L129.90,441.17 L155.30,437.77" fill="none" stroke="#000" stroke-width="0.8"/>
<circle cx="53.80" cy="444.00" r="2.0" fill="#144d7e"/>
<circle cx="79.20" cy="376.59" r="2.0" fill="#c3142f"/>
<circle cx="104.50" cy="438.34" r="2.0" fill="#144d7e"/>
<circle cx="129.90" cy="444.00" r="2.0" fill="#144d7e"/>
<circle cx="155.30" cy="438.34" r="2.0" fill="#144d7e"/>
<circle cx="53.80" cy="442.87" r="2.0" fill="#144d7e"/>
<circle cx="79.20" cy="383.61" r="2.0" fill="#c3142f"/>
<circle cx="104.50" cy="436.07" r="2.0" fill="#144d7e"/>
<circle cx="129.90" cy="442.87" r="2.0" fill="#144d7e"/>
<circle cx="155.30" cy="441.73" r="2.0" fill="#144d7e"/>
<circle cx="53.80" cy="444.57" r="2.0" fill="#144d7e"/>
<circle cx="79.20" cy="386.10" r="2.0" fill="#c3142f"/>
<circle cx="104.50" cy="440.60" r="2.0" fill="#144d7e"/>
<circle cx="129.90" cy="444.57" r="2.0" fill="#144d7e"/>
<circle cx="155.30" cy="442.87" r="2.0" fill="#144d7e"/>
<circle cx="53.80" cy="441.73" r="2.0" fill="#144d7e"/>
<circle cx="79.20" cy="396.19" r="2.0" fill="#c3142f"/>
<circle cx="104.50" cy="431.54" r="2.0" fill="#144d7e"/>
<circle cx="129.90" cy="441.73" r="2.0" fill="#144d7e"/>
<circle cx="155.30" cy="437.20" r="2.0" fill="#144d7e"/>
<circle cx="53.80" cy="443.43" r="2.0" fill="#144d7e"/>
<circle cx="79.20" cy="399.13" r="2.0" fill="#c3142f"/>
<circle cx="104.50" cy="433.80" r="2.0" fill="#144d7e"/>
<circle cx="129.90" cy="443.43" r="2.0" fill="#144d7e"/>
<circle cx="155.30" cy="440.60" r="2.0" fill="#144d7e"/>
<circle cx="53.80" cy="445.13" r="2.0" fill="#144d7e"/>
<circle cx="79.20" cy="400.83" r="2.0" fill="#c3142f"/>
<circle cx="104.50" cy="419.87" r="2.0" fill="#144d7e"/>
<circle cx="129.90" cy="442.30" r="2.0" fill="#144d7e"/>
<circle cx="155.30" cy="439.47" r="2.0" fill="#144d7e"/>
<circle cx="53.80" cy="442.30" r="2.0" fill="#144d7e"/>
<circle cx="79.20" cy="406.16" r="2.0" fill="#c3142f"/>
<circle cx="104.50" cy="429.05" r="2.0" fill="#144d7e"/>
<circle cx="129.90" cy="444.00" r="2.0" fill="#144d7e"/>
<circle cx="155.30" cy="443.43" r="2.0" fill="#144d7e"/>
<circle cx="53.80" cy="444.00" r="2.0" fill="#144d7e"/>
<circle cx="79.20" cy="407.75" r="2.0" fill="#c3142f"/>
<circle cx="104.50" cy="437.20" r="2.0" fill="#144d7e"/>
<circle cx="129.90" cy="444.57" r="2.0" fill="#144d7e"/>
<circle cx="155.30" cy="441.73" r="2.0" fill="#144d7e"/>
<circle cx="53.80" cy="441.17" r="2.0" fill="#144d7e"/>
<circle cx="79.20" cy="423.38" r="2.0" fill="#c3142f"/>
<circle cx="104.50" cy="433.80" r="2.0" fill="#144d7e"/>
<circle cx="129.90" cy="442.87" r="2.0" fill="#144d7e"/>
<circle cx="155.30" cy="440.60" r="2.0" fill="#144d7e"/>
<circle cx="53.80" cy="444.57" r="2.0" fill="#144d7e"/>
<circle cx="79.20" cy="425.19" r="2.0" fill="#c3142f"/>
<circle cx="104.50" cy="440.60" r="2.0" fill="#144d7e"/>
<circle cx="129.90" cy="444.00" r="2.0" fill="#144d7e"/>
<circle cx="155.30" cy="442.87" r="2.0" fill="#144d7e"/>
<circle cx="53.80" cy="444.00" r="2.0" fill="#144d7e"/>
<circle cx="79.20" cy="427.46" r="2.0" fill="#c3142f"/>
<circle cx="104.50" cy="441.73" r="2.0" fill="#144d7e"/>
<circle cx="129.90" cy="445.13" r="2.0" fill="#144d7e"/>
<circle cx="155.30" cy="444.00" r="2.0" fill="#144d7e"/>
<circle cx="53.80" cy="442.87" r="2.0" fill="#144d7e"/>
<circle cx="79.20" cy="432.10" r="2.0" fill="#c3142f"/>
<circle cx="104.50" cy="439.47" r="2.0" fill="#144d7e"/>
<circle cx="129.90" cy="443.43" r="2.0" fill="#144d7e"/>
<circle cx="155.30" cy="438.90" r="2.0" fill="#144d7e"/>
<circle cx="53.80" cy="445.13" r="2.0" fill="#144d7e"/>
<circle cx="79.20" cy="434.94" r="2.0" fill="#c3142f"/>
<circle cx="104.50" cy="442.87" r="2.0" fill="#144d7e"/>
<circle cx="129.90" cy="444.57" r="2.0" fill="#144d7e"/>
<circle cx="155.30" cy="442.30" r="2.0" fill="#144d7e"/>
<circle cx="53.80" cy="443.43" r="2.0" fill="#144d7e"/>
<circle cx="79.20" cy="437.66" r="2.0" fill="#c3142f"/>
<circle cx="104.50" cy="443.43" r="2.0" fill="#144d7e"/>
<circle cx="129.90" cy="445.13" r="2.0" fill="#144d7e"/>
<circle cx="155.30" cy="444.00" r="2.0" fill="#144d7e"/>
<circle cx="53.80" cy="441.73" r="2.0" fill="#144d7e"/>
<circle cx="79.20" cy="440.60" r="2.0" fill="#c3142f"/>
<circle cx="104.50" cy="444.00" r="2.0" fill="#144d7e"/>
<circle cx="129.90" cy="444.00" r="2.0" fill="#144d7e"/>
<circle cx="155.30" cy="441.73" r="2.0" fill="#144d7e"/>
<circle cx="53.80" cy="442.87" r="2.0" fill="#144d7e"/>
<circle cx="79.20" cy="436.07" r="2.0" fill="#c3142f"/>
<circle cx="104.50" cy="441.73" r="2.0" fill="#144d7e"/>
<circle cx="129.90" cy="442.87" r="2.0" fill="#144d7e"/>
<circle cx="155.30" cy="436.64" r="2.0" fill="#144d7e"/>
<circle cx="53.80" cy="444.00" r="2.0" fill="#144d7e"/>
<circle cx="79.20" cy="424.17" r="2.0" fill="#c3142f"/>
<circle cx="104.50" cy="434.94" r="2.0" fill="#144d7e"/>
<circle cx="129.90" cy="444.57" r="2.0" fill="#144d7e"/>
<circle cx="155.30" cy="440.60" r="2.0" fill="#144d7e"/>
<circle cx="53.80" cy="444.57" r="2.0" fill="#144d7e"/>
<circle cx="79.20" cy="430.40" r="2.0" fill="#c3142f"/>
<circle cx="104.50" cy="438.34" r="2.0" fill="#144d7e"/>
<circle cx="129.90" cy="444.00" r="2.0" fill="#144d7e"/>
<circle cx="155.30" cy="442.87" r="2.0" fill="#144d7e"/>
<circle cx="53.80" cy="440.60" r="2.0" fill="#144d7e"/>
<circle cx="79.20" cy="433.80" r="2.0" fill="#c3142f"/>
<circle cx="104.50" cy="440.60" r="2.0" fill="#144d7e"/>
<circle cx="129.90" cy="445.13" r="2.0" fill="#144d7e"/>
<circle cx="155.30" cy="443.43" r="2.0" fill="#144d7e"/>
<circle cx="53.80" cy="443.43" r="2.0" fill="#144d7e"/>
<circle cx="79.20" cy="438.90" r="2.0" fill="#c3142f"/>
<circle cx="104.50" cy="442.87" r="2.0" fill="#144d7e"/>
<circle cx="129.90" cy="441.17" r="2.0" fill="#144d7e"/>
<circle cx="155.30" cy="437.77" r="2.0" fill="#144d7e"/>
<line x1="36.80" y1="443.10" x2="165.20" y2="443.10" stroke="#444" stroke-width="1.1" stroke-dasharray="3,3.4"/>
<line x1="36.80" y1="446.80" x2="165.20" y2="446.80" stroke="#1c1c1c" stroke-width="1.6" />
<line x1="53.80" y1="446.80" x2="53.80" y2="449.80" stroke="#1c1c1c" stroke-width="1" />
<text transform="translate(55.80,456.60) rotate(-45)" font-size="7.4" text-anchor="end" fill="#111">No plasma</text>
<line x1="79.20" y1="446.80" x2="79.20" y2="449.80" stroke="#1c1c1c" stroke-width="1" />
<text transform="translate(81.20,456.60) rotate(-45)" font-size="7.4" text-anchor="end" fill="#111">–</text>
<line x1="104.50" y1="446.80" x2="104.50" y2="449.80" stroke="#1c1c1c" stroke-width="1" />
<text transform="translate(106.50,456.60) rotate(-45)" font-size="7.4" text-anchor="end" fill="#111">+Low hep</text>
<line x1="129.90" y1="446.80" x2="129.90" y2="449.80" stroke="#1c1c1c" stroke-width="1" />
<text transform="translate(131.90,456.60) rotate(-45)" font-size="7.4" text-anchor="end" fill="#111">+High hep</text>
<line x1="155.30" y1="446.80" x2="155.30" y2="449.80" stroke="#1c1c1c" stroke-width="1" />
<text transform="translate(157.30,456.60) rotate(-45)" font-size="7.4" text-anchor="end" fill="#111">+IV.3</text>
<line x1="67.70" y1="485.20" x2="158.70" y2="485.20" stroke="#111" stroke-width="1" />
<text x="113.50" y="493.90" font-size="7.5" text-anchor="middle" fill="#111" >+Plasma</text>
<text x="172.5" y="328" font-size="10.8" font-weight="bold" fill="#000">G</text>
<text transform="translate(208.80,336.80) scale(1,1.08)" font-size="8.7" text-anchor="start" fill="#111" >Heparin-enhancing VITT (n=3)</text>
<line x1="201.40" y1="347.40" x2="201.40" y2="447.20" stroke="#1c1c1c" stroke-width="1.5" />
<line x1="198.40" y1="446.70" x2="201.40" y2="446.70" stroke="#1c1c1c" stroke-width="1.5" />
<text x="195.40" y="449.40" font-size="7.5" text-anchor="end" fill="#111" >0</text>
<line x1="198.40" y1="422.73" x2="201.40" y2="422.73" stroke="#1c1c1c" stroke-width="1.5" />
<text x="195.40" y="425.43" font-size="7.5" text-anchor="end" fill="#111" >20</text>
<line x1="198.40" y1="398.75" x2="201.40" y2="398.75" stroke="#1c1c1c" stroke-width="1.5" />
<text x="195.40" y="401.45" font-size="7.5" text-anchor="end" fill="#111" >40</text>
<line x1="198.40" y1="374.78" x2="201.40" y2="374.78" stroke="#1c1c1c" stroke-width="1.5" />
<text x="195.40" y="377.48" font-size="7.5" text-anchor="end" fill="#111" >60</text>
<line x1="198.40" y1="350.80" x2="201.40" y2="350.80" stroke="#1c1c1c" stroke-width="1.5" />
<text x="195.40" y="353.50" font-size="7.5" text-anchor="end" fill="#111" >80</text>
<text x="205.40" y="354.20" font-size="7.8" text-anchor="start" fill="#111" >+SFLLRN</text>
<g transform="translate(179.80,396.50) rotate(-90) scale(0.765,1)"><text x="0" y="0" font-size="8.5" text-anchor="middle" fill="#111" style="stroke-width:0.3px">Procoagulant platelet (%)</text></g>
<line x1="201.40" y1="442.10" x2="335.00" y2="442.10" stroke="#444" stroke-width="1.1" stroke-dasharray="3,3.4"/>
<path d="M218.70,439.50 L245.60,410.40 L272.50,385.30 L299.50,444.00 L326.40,441.90" fill="none" stroke="#111" stroke-width="1.05"/>
<path d="M218.70,441.40 L245.60,413.10 L272.50,396.40 L299.50,438.70 L326.40,438.10" fill="none" stroke="#111" stroke-width="1.05"/>
<path d="M218.70,442.70 L245.60,426.00 L272.50,413.10 L299.50,438.70 L326.40,438.10" fill="none" stroke="#111" stroke-width="1.05"/>
<circle cx="218.70" cy="439.50" r="2.15" fill="#144d7e"/>
<circle cx="245.60" cy="410.40" r="2.15" fill="#c3142f"/>
<circle cx="272.50" cy="385.30" r="2.15" fill="#144d7e"/>
<circle cx="299.50" cy="444.00" r="2.15" fill="#144d7e"/>
<circle cx="326.40" cy="441.90" r="2.15" fill="#144d7e"/>
<circle cx="218.70" cy="441.40" r="2.15" fill="#144d7e"/>
<circle cx="245.60" cy="413.10" r="2.15" fill="#c3142f"/>
<circle cx="272.50" cy="396.40" r="2.15" fill="#144d7e"/>
<circle cx="299.50" cy="438.70" r="2.15" fill="#144d7e"/>
<circle cx="326.40" cy="438.10" r="2.15" fill="#144d7e"/>
<circle cx="218.70" cy="442.70" r="2.15" fill="#144d7e"/>
<circle cx="245.60" cy="426.00" r="2.15" fill="#c3142f"/>
<circle cx="272.50" cy="413.10" r="2.15" fill="#144d7e"/>
<circle cx="299.50" cy="438.70" r="2.15" fill="#144d7e"/>
<circle cx="326.40" cy="438.10" r="2.15" fill="#144d7e"/>
<line x1="201.40" y1="447.10" x2="338.70" y2="447.10" stroke="#1c1c1c" stroke-width="1.6" />
<line x1="218.70" y1="447.10" x2="218.70" y2="450.10" stroke="#1c1c1c" stroke-width="1" />
<text transform="translate(220.70,456.90) rotate(-45)" font-size="7.4" text-anchor="end" fill="#111">No plasma</text>
<line x1="245.60" y1="447.10" x2="245.60" y2="450.10" stroke="#1c1c1c" stroke-width="1" />
<text transform="translate(247.60,456.90) rotate(-45)" font-size="7.4" text-anchor="end" fill="#111">–</text>
<line x1="272.50" y1="447.10" x2="272.50" y2="450.10" stroke="#1c1c1c" stroke-width="1" />
<text transform="translate(274.50,456.90) rotate(-45)" font-size="7.4" text-anchor="end" fill="#111">+Low hep</text>
<line x1="299.50" y1="447.10" x2="299.50" y2="450.10" stroke="#1c1c1c" stroke-width="1" />
<text transform="translate(301.50,456.90) rotate(-45)" font-size="7.4" text-anchor="end" fill="#111">+High hep</text>
<line x1="326.40" y1="447.10" x2="326.40" y2="450.10" stroke="#1c1c1c" stroke-width="1" />
<text transform="translate(328.40,456.90) rotate(-45)" font-size="7.4" text-anchor="end" fill="#111">+IV.3</text>
<line x1="234.80" y1="485.20" x2="325.60" y2="485.20" stroke="#111" stroke-width="1" />
<text x="279.80" y="493.90" font-size="7.5" text-anchor="middle" fill="#111" >+Plasma</text>
<text x="348.2" y="328.5" font-size="10.8" font-weight="bold" fill="#000">H</text>
<text transform="translate(403.60,336.80) scale(1,1.08)" font-size="8.7" text-anchor="start" fill="#111" >VITT negative (n=24)</text>
<line x1="377.60" y1="343.50" x2="377.60" y2="444.50" stroke="#1c1c1c" stroke-width="1.5" />
<line x1="374.60" y1="444.00" x2="377.60" y2="444.00" stroke="#1c1c1c" stroke-width="1.5" />
<text x="371.60" y="446.70" font-size="7.5" text-anchor="end" fill="#111" >0</text>
<line x1="374.60" y1="420.00" x2="377.60" y2="420.00" stroke="#1c1c1c" stroke-width="1.5" />
<text x="371.60" y="422.70" font-size="7.5" text-anchor="end" fill="#111" >20</text>
<line x1="374.60" y1="396.00" x2="377.60" y2="396.00" stroke="#1c1c1c" stroke-width="1.5" />
<text x="371.60" y="398.70" font-size="7.5" text-anchor="end" fill="#111" >40</text>
<line x1="374.60" y1="372.00" x2="377.60" y2="372.00" stroke="#1c1c1c" stroke-width="1.5" />
<text x="371.60" y="374.70" font-size="7.5" text-anchor="end" fill="#111" >60</text>
<line x1="374.60" y1="348.00" x2="377.60" y2="348.00" stroke="#1c1c1c" stroke-width="1.5" />
<text x="371.60" y="350.70" font-size="7.5" text-anchor="end" fill="#111" >80</text>
<text x="382.30" y="350.80" font-size="7.8" text-anchor="start" fill="#111" >+SFLLRN</text>
<g transform="translate(355.30,393.90) rotate(-90) scale(0.765,1)"><text x="0" y="0" font-size="8.5" text-anchor="middle" fill="#111" style="stroke-width:0.3px">Procoagulant platelet (%)</text></g>
<path d="M394.80,434.16 L421.80,430.44 L448.70,436.80 L474.80,438.00 L502.50,435.60" fill="none" stroke="#666" stroke-width="0.7"/>
<path d="M394.80,436.20 L421.80,435.84 L448.70,435.00 L474.80,432.96 L502.50,430.56" fill="none" stroke="#666" stroke-width="0.7"/>
<path d="M394.80,439.20 L421.80,436.56 L448.70,434.64 L474.80,433.80 L502.50,431.40" fill="none" stroke="#666" stroke-width="0.7"/>
<path d="M394.80,438.00 L421.80,437.40 L448.70,439.20 L474.80,434.64 L502.50,432.60" fill="none" stroke="#666" stroke-width="0.7"/>
<path d="M394.80,440.40 L421.80,437.40 L448.70,436.20 L474.80,435.60 L502.50,433.80" fill="none" stroke="#666" stroke-width="0.7"/>
<path d="M394.80,435.00 L421.80,439.20 L448.70,436.80 L474.80,436.20 L502.50,435.00" fill="none" stroke="#666" stroke-width="0.7"/>
<path d="M394.80,440.02 L421.80,439.13 L448.70,440.10 L474.80,439.02 L502.50,439.73" fill="none" stroke="#666" stroke-width="0.7"/>
<path d="M394.80,440.88 L421.80,441.10 L448.70,440.99 L474.80,441.86 L502.50,438.06" fill="none" stroke="#666" stroke-width="0.7"/>
<path d="M394.80,442.20 L421.80,441.19 L448.70,438.38 L474.80,439.94 L502.50,436.91" fill="none" stroke="#666" stroke-width="0.7"/>
<path d="M394.80,441.83 L421.80,440.60 L448.70,438.15 L474.80,438.56 L502.50,441.56" fill="none" stroke="#666" stroke-width="0.7"/>
<path d="M394.80,439.85 L421.80,440.05 L448.70,441.40 L474.80,438.69 L502.50,441.49" fill="none" stroke="#666" stroke-width="0.7"/>
<path d="M394.80,438.12 L421.80,438.34 L448.70,440.92 L474.80,437.95 L502.50,441.06" fill="none" stroke="#666" stroke-width="0.7"/>
<path d="M394.80,441.30 L421.80,440.96 L448.70,438.95 L474.80,440.62 L502.50,440.60" fill="none" stroke="#666" stroke-width="0.7"/>
<path d="M394.80,440.64 L421.80,440.02 L448.70,438.17 L474.80,439.88 L502.50,439.10" fill="none" stroke="#666" stroke-width="0.7"/>
<path d="M394.80,441.15 L421.80,441.29 L448.70,439.09 L474.80,437.69 L502.50,441.14" fill="none" stroke="#666" stroke-width="0.7"/>
<path d="M394.80,441.03 L421.80,437.41 L448.70,438.02 L474.80,438.17 L502.50,438.38" fill="none" stroke="#000" stroke-width="0.75"/>
<path d="M394.80,440.52 L421.80,438.14 L448.70,440.58 L474.80,437.60 L502.50,437.62" fill="none" stroke="#000" stroke-width="0.75"/>
<path d="M394.80,440.53 L421.80,441.85 L448.70,439.56 L474.80,438.46 L502.50,440.74" fill="none" stroke="#000" stroke-width="0.75"/>
<path d="M394.80,441.17 L421.80,441.71 L448.70,441.95 L474.80,438.37 L502.50,441.24" fill="none" stroke="#000" stroke-width="0.75"/>
<path d="M394.80,439.50 L421.80,441.64 L448.70,440.43 L474.80,441.18 L502.50,440.74" fill="none" stroke="#000" stroke-width="0.75"/>
<path d="M394.80,440.54 L421.80,438.10 L448.70,439.50 L474.80,441.72 L502.50,436.86" fill="none" stroke="#000" stroke-width="0.75"/>
<path d="M394.80,441.89 L421.80,441.77 L448.70,439.75 L474.80,441.03 L502.50,438.95" fill="none" stroke="#000" stroke-width="0.75"/>
<path d="M394.80,438.56 L421.80,441.32 L448.70,441.55 L474.80,437.84 L502.50,437.78" fill="none" stroke="#000" stroke-width="0.75"/>
<path d="M394.80,438.21 L421.80,437.97 L448.70,439.67 L474.80,440.18 L502.50,441.64" fill="none" stroke="#000" stroke-width="0.75"/>
<circle cx="394.80" cy="434.16" r="1.9" fill="#144d7e"/>
<circle cx="421.80" cy="430.44" r="1.9" fill="#c3142f"/>
<circle cx="448.70" cy="436.80" r="1.9" fill="#144d7e"/>
<circle cx="474.80" cy="438.00" r="1.9" fill="#144d7e"/>
<circle cx="502.50" cy="435.60" r="1.9" fill="#144d7e"/>
<circle cx="394.80" cy="436.20" r="1.9" fill="#144d7e"/>
<circle cx="421.80" cy="435.84" r="1.9" fill="#c3142f"/>
<circle cx="448.70" cy="435.00" r="1.9" fill="#144d7e"/>
<circle cx="474.80" cy="432.96" r="1.9" fill="#144d7e"/>
<circle cx="502.50" cy="430.56" r="1.9" fill="#144d7e"/>
<circle cx="394.80" cy="439.20" r="1.9" fill="#144d7e"/>
<circle cx="421.80" cy="436.56" r="1.9" fill="#c3142f"/>
<circle cx="448.70" cy="434.64" r="1.9" fill="#144d7e"/>
<circle cx="474.80" cy="433.80" r="1.9" fill="#144d7e"/>
<circle cx="502.50" cy="431.40" r="1.9" fill="#144d7e"/>
<circle cx="394.80" cy="438.00" r="1.9" fill="#144d7e"/>
<circle cx="421.80" cy="437.40" r="1.9" fill="#c3142f"/>
<circle cx="448.70" cy="439.20" r="1.9" fill="#144d7e"/>
<circle cx="474.80" cy="434.64" r="1.9" fill="#144d7e"/>
<circle cx="502.50" cy="432.60" r="1.9" fill="#144d7e"/>
<circle cx="394.80" cy="440.40" r="1.9" fill="#144d7e"/>
<circle cx="421.80" cy="437.40" r="1.9" fill="#c3142f"/>
<circle cx="448.70" cy="436.20" r="1.9" fill="#144d7e"/>
<circle cx="474.80" cy="435.60" r="1.9" fill="#144d7e"/>
<circle cx="502.50" cy="433.80" r="1.9" fill="#144d7e"/>
<circle cx="394.80" cy="435.00" r="1.9" fill="#144d7e"/>
<circle cx="421.80" cy="439.20" r="1.9" fill="#c3142f"/>
<circle cx="448.70" cy="436.80" r="1.9" fill="#144d7e"/>
<circle cx="474.80" cy="436.20" r="1.9" fill="#144d7e"/>
<circle cx="502.50" cy="435.00" r="1.9" fill="#144d7e"/>
<circle cx="394.80" cy="440.02" r="1.9" fill="#144d7e"/>
<circle cx="421.80" cy="439.13" r="1.9" fill="#c3142f"/>
<circle cx="448.70" cy="440.10" r="1.9" fill="#144d7e"/>
<circle cx="474.80" cy="439.02" r="1.9" fill="#144d7e"/>
<circle cx="502.50" cy="439.73" r="1.9" fill="#144d7e"/>
<circle cx="394.80" cy="441.03" r="1.9" fill="#144d7e"/>
<circle cx="421.80" cy="437.41" r="1.9" fill="#c3142f"/>
<circle cx="448.70" cy="438.02" r="1.9" fill="#144d7e"/>
<circle cx="474.80" cy="438.17" r="1.9" fill="#144d7e"/>
<circle cx="502.50" cy="438.38" r="1.9" fill="#144d7e"/>
<circle cx="394.80" cy="440.88" r="1.9" fill="#144d7e"/>
<circle cx="421.80" cy="441.10" r="1.9" fill="#c3142f"/>
<circle cx="448.70" cy="440.99" r="1.9" fill="#144d7e"/>
<circle cx="474.80" cy="441.86" r="1.9" fill="#144d7e"/>
<circle cx="502.50" cy="438.06" r="1.9" fill="#144d7e"/>
<circle cx="394.80" cy="440.52" r="1.9" fill="#144d7e"/>
<circle cx="421.80" cy="438.14" r="1.9" fill="#c3142f"/>
<circle cx="448.70" cy="440.58" r="1.9" fill="#144d7e"/>
<circle cx="474.80" cy="437.60" r="1.9" fill="#144d7e"/>
<circle cx="502.50" cy="437.62" r="1.9" fill="#144d7e"/>
<circle cx="394.80" cy="442.20" r="1.9" fill="#144d7e"/>
<circle cx="421.80" cy="441.19" r="1.9" fill="#c3142f"/>
<circle cx="448.70" cy="438.38" r="1.9" fill="#144d7e"/>
<circle cx="474.80" cy="439.94" r="1.9" fill="#144d7e"/>
<circle cx="502.50" cy="436.91" r="1.9" fill="#144d7e"/>
<circle cx="394.80" cy="440.53" r="1.9" fill="#144d7e"/>
<circle cx="421.80" cy="441.85" r="1.9" fill="#c3142f"/>
<circle cx="448.70" cy="439.56" r="1.9" fill="#144d7e"/>
<circle cx="474.80" cy="438.46" r="1.9" fill="#144d7e"/>
<circle cx="502.50" cy="440.74" r="1.9" fill="#144d7e"/>
<circle cx="394.80" cy="441.83" r="1.9" fill="#144d7e"/>
<circle cx="421.80" cy="440.60" r="1.9" fill="#c3142f"/>
<circle cx="448.70" cy="438.15" r="1.9" fill="#144d7e"/>
<circle cx="474.80" cy="438.56" r="1.9" fill="#144d7e"/>
<circle cx="502.50" cy="441.56" r="1.9" fill="#144d7e"/>
<circle cx="394.80" cy="441.17" r="1.9" fill="#144d7e"/>
<circle cx="421.80" cy="441.71" r="1.9" fill="#c3142f"/>
<circle cx="448.70" cy="441.95" r="1.9" fill="#144d7e"/>
<circle cx="474.80" cy="438.37" r="1.9" fill="#144d7e"/>
<circle cx="502.50" cy="441.24" r="1.9" fill="#144d7e"/>
<circle cx="394.80" cy="439.85" r="1.9" fill="#144d7e"/>
<circle cx="421.80" cy="440.05" r="1.9" fill="#c3142f"/>
<circle cx="448.70" cy="441.40" r="1.9" fill="#144d7e"/>
<circle cx="474.80" cy="438.69" r="1.9" fill="#144d7e"/>
<circle cx="502.50" cy="441.49" r="1.9" fill="#144d7e"/>
<circle cx="394.80" cy="439.50" r="1.9" fill="#144d7e"/>
<circle cx="421.80" cy="441.64" r="1.9" fill="#c3142f"/>
<circle cx="448.70" cy="440.43" r="1.9" fill="#144d7e"/>
<circle cx="474.80" cy="441.18" r="1.9" fill="#144d7e"/>
<circle cx="502.50" cy="440.74" r="1.9" fill="#144d7e"/>
<circle cx="394.80" cy="438.12" r="1.9" fill="#144d7e"/>
<circle cx="421.80" cy="438.34" r="1.9" fill="#c3142f"/>
<circle cx="448.70" cy="440.92" r="1.9" fill="#144d7e"/>
<circle cx="474.80" cy="437.95" r="1.9" fill="#144d7e"/>
<circle cx="502.50" cy="441.06" r="1.9" fill="#144d7e"/>
<circle cx="394.80" cy="440.54" r="1.9" fill="#144d7e"/>
<circle cx="421.80" cy="438.10" r="1.9" fill="#c3142f"/>
<circle cx="448.70" cy="439.50" r="1.9" fill="#144d7e"/>
<circle cx="474.80" cy="441.72" r="1.9" fill="#144d7e"/>
<circle cx="502.50" cy="436.86" r="1.9" fill="#144d7e"/>
<circle cx="394.80" cy="441.30" r="1.9" fill="#144d7e"/>
<circle cx="421.80" cy="440.96" r="1.9" fill="#c3142f"/>
<circle cx="448.70" cy="438.95" r="1.9" fill="#144d7e"/>
<circle cx="474.80" cy="440.62" r="1.9" fill="#144d7e"/>
<circle cx="502.50" cy="440.60" r="1.9" fill="#144d7e"/>
<circle cx="394.80" cy="441.89" r="1.9" fill="#144d7e"/>
<circle cx="421.80" cy="441.77" r="1.9" fill="#c3142f"/>
<circle cx="448.70" cy="439.75" r="1.9" fill="#144d7e"/>
<circle cx="474.80" cy="441.03" r="1.9" fill="#144d7e"/>
<circle cx="502.50" cy="438.95" r="1.9" fill="#144d7e"/>
<circle cx="394.80" cy="440.64" r="1.9" fill="#144d7e"/>
<circle cx="421.80" cy="440.02" r="1.9" fill="#c3142f"/>
<circle cx="448.70" cy="438.17" r="1.9" fill="#144d7e"/>
<circle cx="474.80" cy="439.88" r="1.9" fill="#144d7e"/>
<circle cx="502.50" cy="439.10" r="1.9" fill="#144d7e"/>
<circle cx="394.80" cy="438.56" r="1.9" fill="#144d7e"/>
<circle cx="421.80" cy="441.32" r="1.9" fill="#c3142f"/>
<circle cx="448.70" cy="441.55" r="1.9" fill="#144d7e"/>
<circle cx="474.80" cy="437.84" r="1.9" fill="#144d7e"/>
<circle cx="502.50" cy="437.78" r="1.9" fill="#144d7e"/>
<circle cx="394.80" cy="441.15" r="1.9" fill="#144d7e"/>
<circle cx="421.80" cy="441.29" r="1.9" fill="#c3142f"/>
<circle cx="448.70" cy="439.09" r="1.9" fill="#144d7e"/>
<circle cx="474.80" cy="437.69" r="1.9" fill="#144d7e"/>
<circle cx="502.50" cy="441.14" r="1.9" fill="#144d7e"/>
<circle cx="394.80" cy="438.21" r="1.9" fill="#144d7e"/>
<circle cx="421.80" cy="437.97" r="1.9" fill="#c3142f"/>
<circle cx="448.70" cy="439.67" r="1.9" fill="#144d7e"/>
<circle cx="474.80" cy="440.18" r="1.9" fill="#144d7e"/>
<circle cx="502.50" cy="441.64" r="1.9" fill="#144d7e"/>
<line x1="377.60" y1="439.40" x2="512.80" y2="439.40" stroke="#444" stroke-width="1.1" stroke-dasharray="3,3.4"/>
<line x1="377.60" y1="444.30" x2="512.80" y2="444.30" stroke="#1c1c1c" stroke-width="1.6" />
<line x1="394.80" y1="444.30" x2="394.80" y2="447.30" stroke="#1c1c1c" stroke-width="1" />
<text transform="translate(396.80,454.10) rotate(-45)" font-size="7.4" text-anchor="end" fill="#111">No plasma</text>
<line x1="421.80" y1="444.30" x2="421.80" y2="447.30" stroke="#1c1c1c" stroke-width="1" />
<text transform="translate(423.80,454.10) rotate(-45)" font-size="7.4" text-anchor="end" fill="#111">–</text>
<line x1="448.70" y1="444.30" x2="448.70" y2="447.30" stroke="#1c1c1c" stroke-width="1" />
<text transform="translate(450.70,454.10) rotate(-45)" font-size="7.4" text-anchor="end" fill="#111">+Low hep</text>
<line x1="474.80" y1="444.30" x2="474.80" y2="447.30" stroke="#1c1c1c" stroke-width="1" />
<text transform="translate(476.80,454.10) rotate(-45)" font-size="7.4" text-anchor="end" fill="#111">+High hep</text>
<line x1="502.50" y1="444.30" x2="502.50" y2="447.30" stroke="#1c1c1c" stroke-width="1" />
<text transform="translate(504.50,454.10) rotate(-45)" font-size="7.4" text-anchor="end" fill="#111">+IV.3</text>
<line x1="410.50" y1="482.50" x2="501.70" y2="482.50" stroke="#111" stroke-width="1" />
<text x="456.00" y="491.20" font-size="7.5" text-anchor="middle" fill="#111" >+Plasma</text>
</svg></body></html>
